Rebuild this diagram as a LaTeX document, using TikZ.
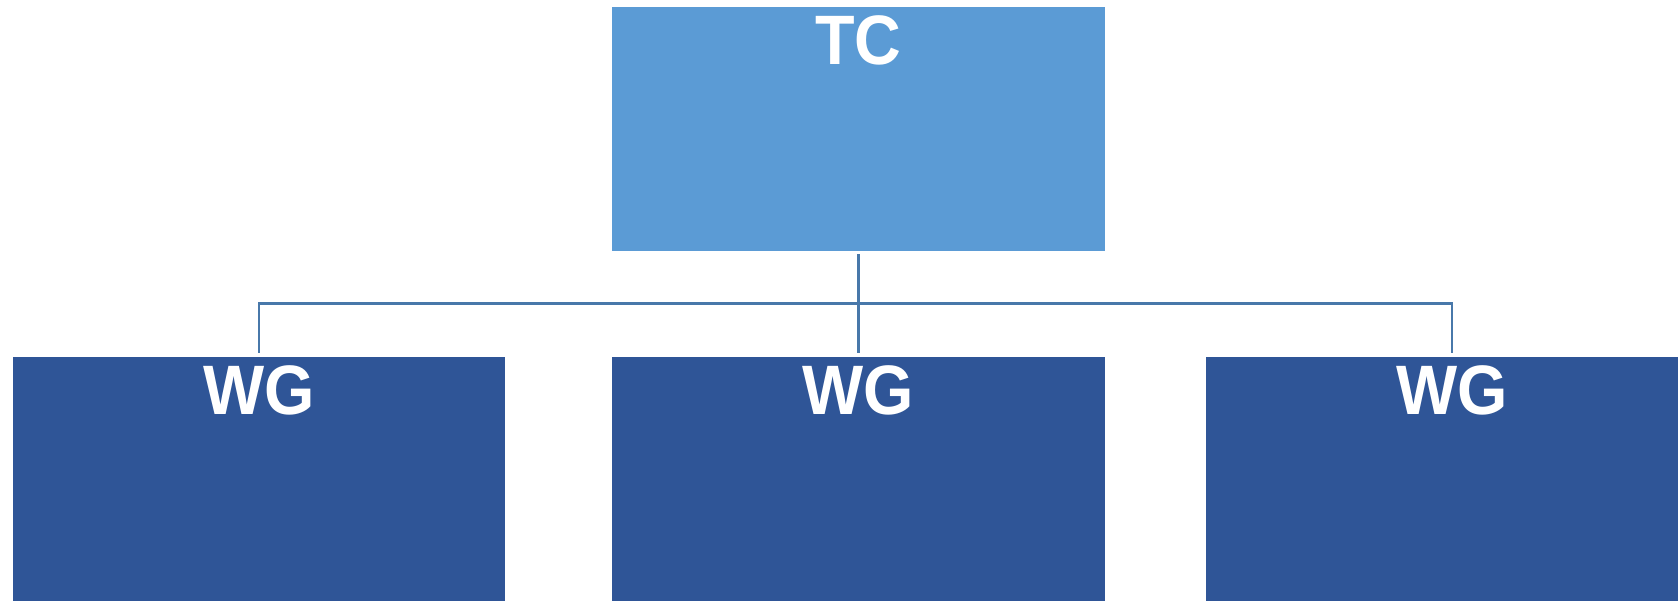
\documentclass[tikz,border=0pt]{standalone}
\usepackage{fontspec}
\setmainfont{Liberation Sans}
\definecolor{tcblue}{RGB}{91,155,213}
\definecolor{wgblue}{RGB}{47,85,151}
\definecolor{linkblue}{RGB}{72,120,170}
\newcommand{\narrowtitle}[1]{\scalebox{0.925}[1]{#1}}
\begin{document}
\begin{tikzpicture}[x=1pt,y=-1pt,
  orgbox/.style={rectangle, inner sep=0pt, minimum width=492.3pt, minimum height=244pt, anchor=north},
  boxtitle/.style={anchor=base, text=white, inner sep=0pt, font=\fontsize{70}{84}\selectfont\bfseries},
  conn/.style={draw=linkblue, line width=2.2pt}]
  \useasboundingbox (0,0) rectangle (1678,600);
  % boxes
  \node[orgbox, fill=tcblue] (tc) at (858.4,6.4) {};
  \node[orgbox, fill=wgblue] (wg1) at (259,357) {};
  \node[orgbox, fill=wgblue] (wg2) at (858.4,357) {};
  \node[orgbox, fill=wgblue] (wg3) at (1452,357) {};
  % titles, set on a baseline just below each box's top edge
  \node[boxtitle] (tctitle) at ([yshift=-57.6pt]tc.north) {\narrowtitle{TC}};
  \node[boxtitle] (wg1title) at ([yshift=-57pt]wg1.north) {\narrowtitle{WG}};
  \node[boxtitle] (wg2title) at ([yshift=-57pt]wg2.north) {\narrowtitle{WG}};
  \node[boxtitle] (wg3title) at ([yshift=-57pt]wg3.north) {\narrowtitle{WG}};
  % connectors
  \coordinate (bus) at (0,303.5);
  \draw[conn, shorten <=3.5pt, shorten >=4pt] (tc.south) -- (wg2.north);
  \draw[conn, shorten >=4pt] (tc.south |- bus) -| (wg1.north);
  \draw[conn, shorten >=4pt] (tc.south |- bus) -| (wg3.north);
\end{tikzpicture}
\end{document}
